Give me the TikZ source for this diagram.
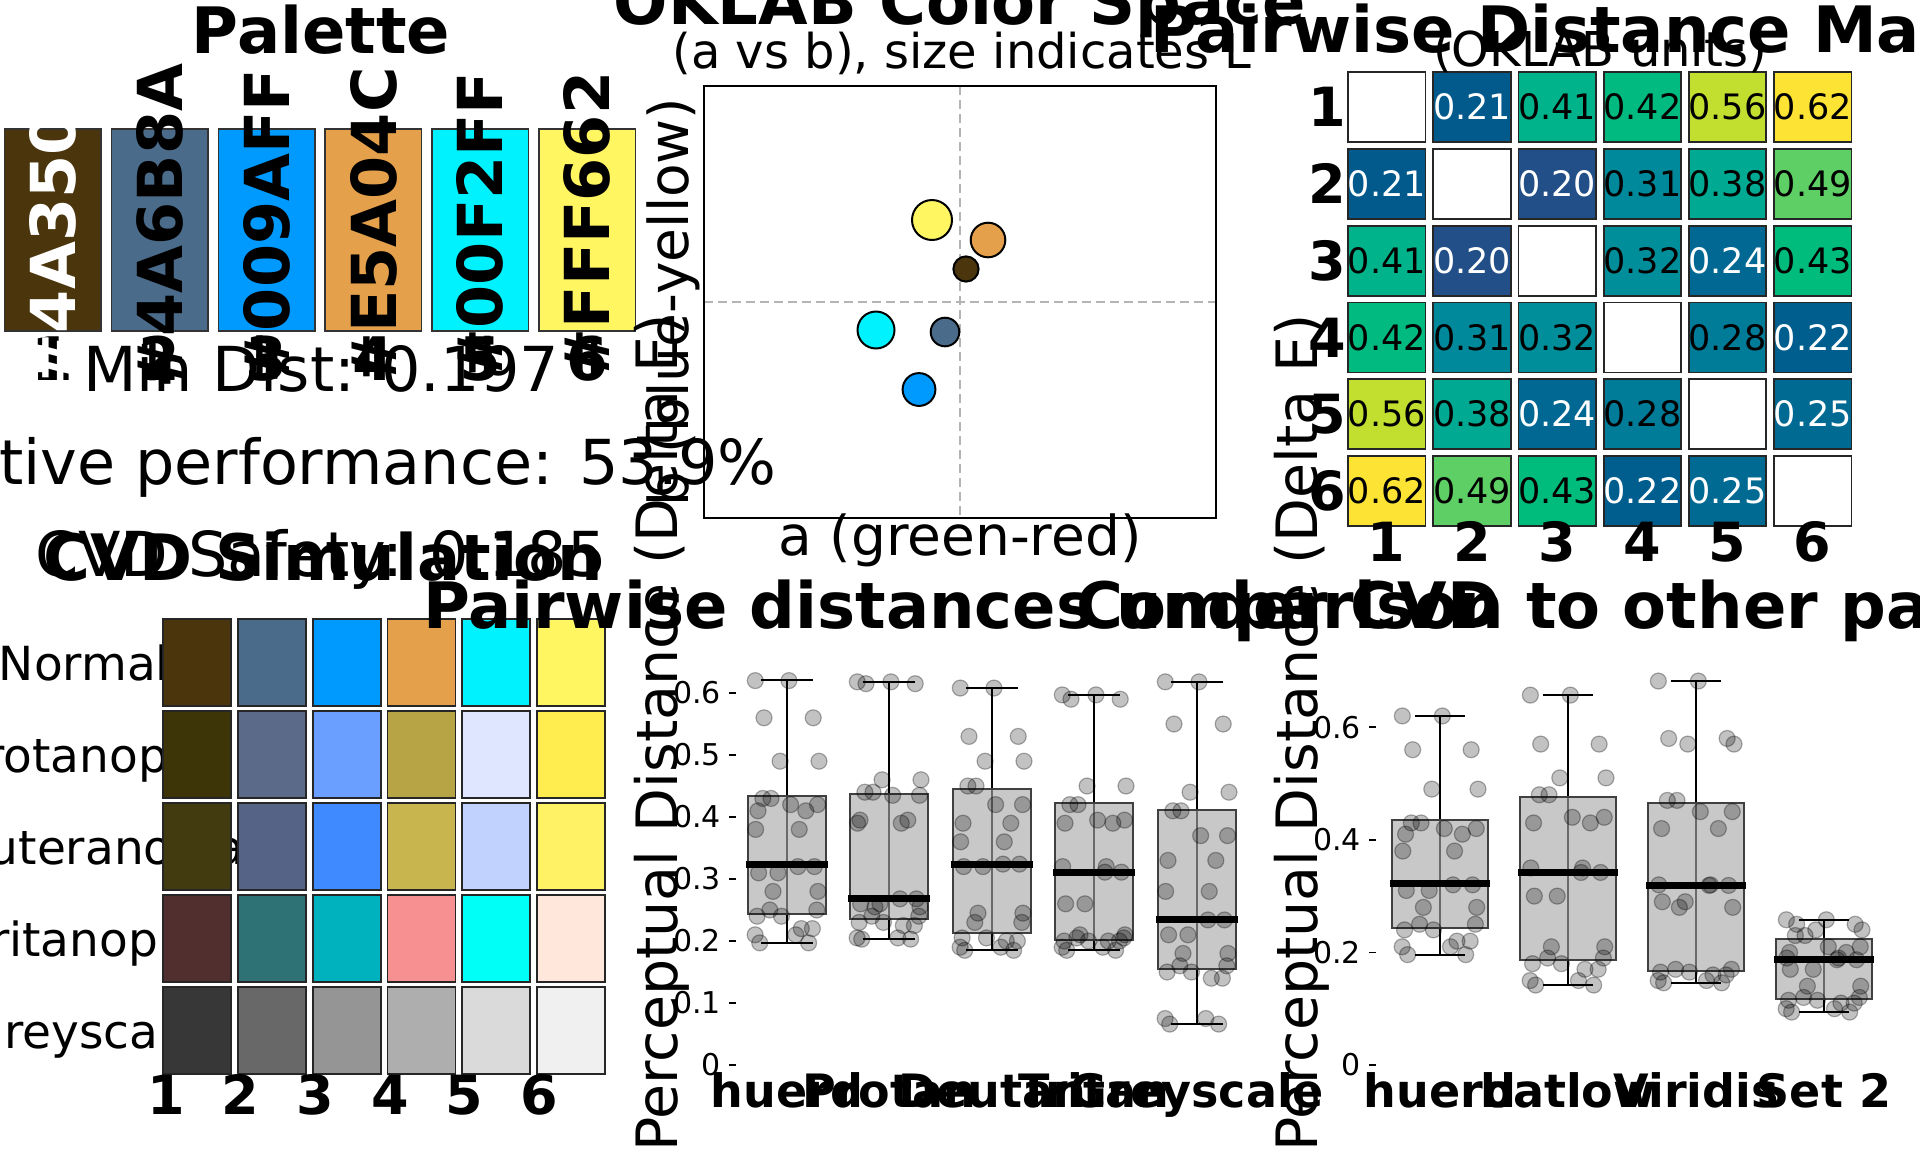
\documentclass[tikz,border=0pt]{standalone}
\usepackage{fontspec}
\setmainfont{DejaVu Sans}
\newcommand{\myfs}[1]{\fontsize{#1}{#1}\selectfont}
% palette
\definecolor{pA}{HTML}{4A350C}
\definecolor{pB}{HTML}{4A6B8A}
\definecolor{pC}{HTML}{009AFF}
\definecolor{pD}{HTML}{E5A04C}
\definecolor{pE}{HTML}{00F2FF}
\definecolor{pF}{HTML}{FFF662}
% heatmap
\definecolor{h20}{HTML}{224F87}
\definecolor{h21}{HTML}{02598C}
\definecolor{h22}{HTML}{005E8E}
\definecolor{h24}{HTML}{016893}
\definecolor{h25}{HTML}{006A93}
\definecolor{h28}{HTML}{007B98}
\definecolor{h31}{HTML}{00899A}
\definecolor{h32}{HTML}{008E9A}
\definecolor{h38}{HTML}{00AA92}
\definecolor{h41}{HTML}{00B38A}
\definecolor{h42}{HTML}{00BA80}
\definecolor{h43}{HTML}{00BC7C}
\definecolor{h49}{HTML}{5DCF64}
\definecolor{h56}{HTML}{C2DF30}
\definecolor{h62}{HTML}{FDE333}
\definecolor{boxgray}{HTML}{A8A8A8}
\definecolor{dashgray}{HTML}{B4B4B4}

\newcommand{\hrow}[2]{%
  \foreach \v [count=\c from 0] in {#2}{%
    \pgfmathsetmacro{\hx}{1348+85.2*\c}%
    \pgfmathsetmacro{\hy}{72+76.8*#1}%
    \ifnum\v=0
      \draw[hcell,fill=white] (\hx,\hy) rectangle ++(77.5,70);
    \else
      \ifnum\v<27 \def\tc{white}\else\def\tc{black}\fi
      \draw[hcell,fill=h\v] (\hx,\hy) rectangle ++(77.5,70);
      \node[hval,text=\tc] (hm#1\c) at (\hx+38.75,\hy+35) {0.\v};
    \fi
  }%
}
\newcommand{\crow}[3]{%
  \node[font=\myfs{47},anchor=base] (cl#1) at (84,{680+92*#1}) {#2};
  \foreach \hcol [count=\c from 0] in {#3}{%
    \edef\tmpdef{\noexpand\definecolor{tmpc}{HTML}{\hcol}}\tmpdef
    \pgfmathsetmacro{\cxl}{163+74.8*\c}%
    \draw[ccell,fill=tmpc] (\cxl,{619+92*#1}) rectangle ++(68,87);
  }%
}
\newcommand{\bxp}[9]{%
  \draw[whisk] (#1,{1065-#2*#5}) -- (#1,{1065-#2*#9});
  \draw[whisk] (#1-#4,{1065-#2*#5}) -- (#1+#4,{1065-#2*#5});
  \draw[whisk] (#1-#4,{1065-#2*#9}) -- (#1+#4,{1065-#2*#9});
  \draw[bbox] (#1-#3,{1065-#2*#6}) rectangle (#1+#3,{1065-#2*#8});
}
\newcommand{\bmed}[4]{%
  \draw[med] (#1-#3-2,{1065-#2*#4}) -- (#1+#3+2,{1065-#2*#4});
}
\newcommand{\pts}[4]{%
  \foreach \v [count=\k] in {#4}{%
    \pgfmathsetmacro{\pa}{#1+#3*sin(\k*137.5)}%
    \pgfmathsetmacro{\pb}{#1+#3*sin(\k*137.5+101)}%
    \pgfmathsetmacro{\py}{1065-#2*\v}%
    \filldraw[jpt] (\pa,\py) circle (8pt);
    \filldraw[jpt] (\pb,\py) circle (8pt);
  }%
}

\begin{document}
\begin{tikzpicture}[x=1pt,y=-1pt,
  every node/.style={inner sep=0pt,outer sep=0pt},
  pbox/.style={draw=black!80,line width=1.5pt},
  hexlab/.style={rotate=90,font=\myfs{62}\bfseries},
  ticklab/.style={font=\myfs{60}\bfseries,anchor=base},
  info/.style={font=\myfs{62},anchor=base},
  ttl/.style={font=\myfs{64}\bfseries,anchor=base},
  axlab/.style={font=\myfs{55}},
  ylab/.style={font=\myfs{57},rotate=90},
  hcell/.style={draw=black!85,line width=1.8pt},
  hval/.style={font=\myfs{35}},
  ccell/.style={draw=black!85,line width=1.8pt},
  bxtick/.style={font=\myfs{46}\bfseries,anchor=base},
  ytk/.style={font=\myfs{30},anchor=east},
  bbox/.style={fill=boxgray,fill opacity=0.63,draw=black!75,line width=2pt},
  whisk/.style={line width=2.2pt,black},
  med/.style={line width=7pt,black},
  jpt/.style={fill=black,fill opacity=0.24,draw=black,draw opacity=0.3,line width=1.2pt},
  tickmark/.style={line width=1.5pt,black},
]
\useasboundingbox (0,0) rectangle (1920,1152);
\fill[white] (0,0) rectangle (1920,1152);

%% ---------------- Palette ----------------
\node[ttl] (ttlpal) at (321,53) {Palette};
\foreach \i/\pc in {0/pA,1/pB,2/pC,3/pD,4/pE,5/pF}{
  \draw[pbox,fill=\pc] ({4.5+106.9*\i},129) rectangle ++(96.5,202);
}
\foreach \i in {1,...,6}{
  \node[ticklab] (pt\i) at ({52.75+106.9*(\i-1)},380) {\i};
}
\foreach \i/\hex/\tc in {0/4A350C/white,1/4A6B8A/black,2/009AFF/black,3/E5A04C/black,4/00F2FF/black,5/FFF662/black}{
  \node[hexlab,text=\tc] (hex\i) at ({52.75+106.9*\i},226) {\#\hex};
}
\node[info] (mind) at (321,391) {Min Dist: 0.197};
\node[info] (relp) at (321,484) {Relative performance: 53.9\%};
\node[info] (cvds) at (321,576) {CVD Safety: 0.185};

%% ---------------- OKLAB ----------------
\node[ttl] (ttlok) at (960,24) {OKLAB Color Space};
\node[font=\myfs{48},anchor=base] (subok) at (962,68) {(a vs b), size indicates L};
\draw[dashgray,line width=2pt,dash pattern=on 9pt off 5pt] (960,86) -- (960,518);
\draw[dashgray,line width=2pt,dash pattern=on 9pt off 5pt] (704,302) -- (1216,302);
\filldraw[fill=pF,draw=black,line width=2pt] (932,220) circle (20pt);
\filldraw[fill=pD,draw=black,line width=2pt] (988,240) circle (17.3pt);
\filldraw[fill=pA,draw=black,line width=2pt] (966,269) circle (12.6pt);
\filldraw[fill=pE,draw=black,line width=2pt] (876,330) circle (18.5pt);
\filldraw[fill=pB,draw=black,line width=2pt] (945,332) circle (14.3pt);
\filldraw[fill=pC,draw=black,line width=2pt] (919,389.5) circle (16.4pt);
\draw[black,line width=2pt] (704,86) rectangle (1216,518);
\node[axlab,anchor=base] (xlok) at (960,555) {a (green-red)};
\node[axlab,rotate=90] (ylok) at (673,302) {b (blue-yellow)};

%% ---------------- Heatmap ----------------
\hrow{0}{00,21,41,42,56,62}
\hrow{1}{21,00,20,31,38,49}
\hrow{2}{41,20,00,32,24,43}
\hrow{3}{42,31,32,00,28,22}
\hrow{4}{56,38,24,28,00,25}
\hrow{5}{62,49,43,22,25,00}
\foreach \i in {1,...,6}{
  \node[font=\myfs{54}\bfseries,anchor=east] (hr\i) at (1346,{107+76.8*(\i-1)}) {\i};
  \node[font=\myfs{54}\bfseries,anchor=base] (hc\i) at ({1386.75+85.2*(\i-1)},561) {\i};
}
\node[ttl] (ttlhm) at (1598,52) {Pairwise Distance Matrix};
\node[font=\myfs{48},anchor=base] (subhm) at (1600,66) {(OKLAB units)};

%% ---------------- CVD simulation ----------------
\crow{0}{Normal}{4A350C,4A6B8A,009AFF,E5A04C,00F2FF,FFF662}
\crow{1}{Protanopia}{3D3508,5B6A88,6A9EFF,B7A545,DFE6FF,FFEC4F}
\crow{2}{Deuteranopia}{423B10,546386,408AFF,C8B54E,C2D2FF,FFF264}
\crow{3}{Tritanopia}{512F2E,2F7275,00B2BE,F79090,00FFF7,FFE7DB}
\crow{4}{Greyscale}{373737,686868,959595,AEAEAE,DADADA,F0F0F0}
\foreach \i in {1,...,6}{
  \node[font=\myfs{54}\bfseries,anchor=base] (cc\i) at ({166+74.6*(\i-1)},1114) {\i};
}
\node[ttl] (ttlcvd) at (323,580) {CVD Simulation};

%% ---------------- Middle boxplot ----------------
\node[ttl,anchor=base west] (ttlmid) at (423,628) {Pairwise distances under CVD};
\foreach \t in {0,0.1,0.2,0.3,0.4,0.5,0.6}{
  \draw[tickmark] (729,{1065-620*\t}) -- (736,{1065-620*\t});
}
\foreach \t/\lab in {0/0,0.1/0.1,0.2/0.2,0.3/0.3,0.4/0.4,0.5/0.5,0.6/0.6}{
  \node[ytk] at (721,{1065-620*\t}) {\lab};
}
\bxp{787}{620}{39}{26}{0.197}{0.2435}{0.323}{0.434}{0.621}
\bxp{889}{620}{39}{26}{0.203}{0.235}{0.268}{0.437}{0.618}
\bxp{992}{620}{39}{26}{0.185}{0.213}{0.324}{0.445}{0.608}
\bxp{1094}{620}{39}{26}{0.185}{0.202}{0.311}{0.423}{0.597}
\bxp{1197}{620}{39}{26}{0.066}{0.155}{0.234}{0.411}{0.618}
\pts{787}{620}{32}{0.197,0.21,0.22,0.24,0.25,0.28,0.31,0.32,0.38,0.41,0.42,0.43,0.49,0.56,0.62}
\pts{889}{620}{32}{0.203,0.205,0.225,0.23,0.24,0.255,0.26,0.268,0.39,0.395,0.435,0.44,0.46,0.615,0.618}
\pts{992}{620}{32}{0.185,0.19,0.20,0.205,0.23,0.245,0.32,0.324,0.36,0.39,0.42,0.45,0.49,0.53,0.608}
\pts{1094}{620}{32}{0.185,0.19,0.20,0.20,0.205,0.21,0.26,0.311,0.32,0.39,0.395,0.42,0.45,0.59,0.597}
\pts{1197}{620}{32}{0.066,0.075,0.14,0.15,0.16,0.18,0.21,0.234,0.28,0.33,0.37,0.41,0.44,0.55,0.618}
\bmed{787}{620}{39}{0.323}
\bmed{889}{620}{39}{0.268}
\bmed{992}{620}{39}{0.324}
\bmed{1094}{620}{39}{0.311}
\bmed{1197}{620}{39}{0.234}
\node[bxtick] (m1) at (787,1107) {huerd};
\node[bxtick] (m2) at (889,1107) {Protan};
\node[bxtick] (m3) at (992,1107) {Deutan};
\node[bxtick] (m4) at (1094,1107) {Tritan};
\node[bxtick] (m5) at (1197,1107) {Greyscale};
\node[ylab] (ylmid) at (662,733) {Perceptual Distance (Delta E)};

%% ---------------- Right boxplot ----------------
\node[ttl,anchor=base west] (ttlright) at (1076,628) {Comparison to other palettes};
\foreach \t in {0,0.2,0.4,0.6}{
  \draw[tickmark] (1369,{1065-563*\t}) -- (1376,{1065-563*\t});
}
\foreach \t/\lab in {0/0,0.2/0.2,0.4/0.4,0.6/0.6}{
  \node[ytk] at (1361,{1065-563*\t}) {\lab};
}
\bxp{1440}{563}{48}{25}{0.196}{0.244}{0.322}{0.435}{0.620}
\bxp{1568}{563}{48}{25}{0.142}{0.187}{0.342}{0.476}{0.657}
\bxp{1696}{563}{48}{25}{0.146}{0.167}{0.319}{0.466}{0.682}
\bxp{1824}{563}{48}{25}{0.094}{0.117}{0.187}{0.224}{0.258}
\pts{1440}{563}{38}{0.196,0.21,0.22,0.24,0.25,0.28,0.31,0.32,0.38,0.41,0.42,0.43,0.49,0.56,0.62}
\pts{1568}{563}{38}{0.142,0.15,0.17,0.18,0.19,0.21,0.30,0.342,0.35,0.43,0.44,0.48,0.51,0.57,0.657}
\pts{1696}{563}{38}{0.146,0.15,0.16,0.165,0.17,0.28,0.29,0.319,0.32,0.42,0.45,0.47,0.57,0.58,0.682}
\pts{1824}{563}{38}{0.094,0.10,0.11,0.115,0.12,0.14,0.17,0.187,0.19,0.20,0.21,0.23,0.24,0.25,0.258}
\bmed{1440}{563}{48}{0.322}
\bmed{1568}{563}{48}{0.342}
\bmed{1696}{563}{48}{0.319}
\bmed{1824}{563}{48}{0.187}
\node[bxtick] (r1) at (1440,1107) {huerd};
\node[bxtick] (r2) at (1568,1107) {batlow};
\node[bxtick] (r3) at (1696,1107) {Viridis};
\node[bxtick] (r4) at (1824,1107) {Set 2};
\node[ylab] (ylright) at (1302,733) {Perceptual Distance (Delta E)};
\end{tikzpicture}
\end{document}
